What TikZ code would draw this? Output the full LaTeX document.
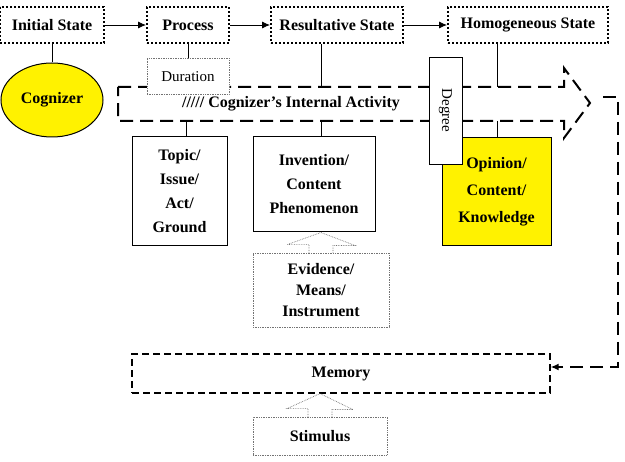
\documentclass[tikz,border=0pt]{standalone}
\usepackage{fontspec}
\setmainfont{Liberation Serif}
\usetikzlibrary{positioning, arrows.meta, shapes.geometric}
\tikzset{-, % plain lines unless an arrow is asked for
>={Latex[length=8pt,width=7pt]}, % filled arrow heads
node distance=41pt, % gap between the states on top
state/.style={draw, line width=2pt, dash pattern=on 2pt off 2pt, minimum height=36pt, inner sep=0pt, font=\fontsize{16}{19}\selectfont\bfseries},
box/.style={draw, line width=1pt, inner sep=0pt, align=center, font=\fontsize{16}{24}\selectfont\bfseries},
aid/.style={draw=black!55, densely dotted, line width=0.7pt, inner sep=0pt, align=center},
band/.style={line width=2pt, dash pattern=on 13pt off 7pt},
hollow/.style={black!55, densely dotted, line width=0.7pt},
}

\begin{document}
\begin{tikzpicture}[x=1pt, y=-1pt]
  \useasboundingbox (0,0) rectangle (625,462);

  \node[state, minimum width=104pt] (init) at (52,25) {Initial State};
  \node[state, minimum width=82pt, right=of init] (proc) {Process};
  \node[state, minimum width=132pt, right=40pt of proc] (res) {Resultative State};
  \node[state, minimum width=160pt, right=43pt of res] (homo) {Homogeneous State};

  \node[ellipse, draw, fill=yellow, line width=1pt, minimum width=102pt, minimum height=74pt, inner sep=0pt, font=\fontsize{16}{19}\selectfont\bfseries] (cog) at (52,100) {Cognizer};

  % the internal activity as a big open arrow
  \draw[band] (118,87) -- (564,87) -- (564,68) -- (590,103) -- (564,138) -- (564,121) -- (118,121) -- cycle;
  \node[font=\fontsize{16}{19}\selectfont\bfseries] (act) at (291,104) {///// Cognizer’s Internal Activity};

  \node[aid, fill=white, minimum width=82pt, minimum height=36pt, below=14pt of proc, font=\fontsize{15}{18}\selectfont] (dur) {Duration};

  \node[box, minimum width=95pt, minimum height=109pt] (topic) at (179.5,191.5) {Topic/\\Issue/\\Act/\\Ground};
  \node[box, minimum width=122pt, minimum height=95pt] (inv) at (314,184.5) {Invention/\\Content\\Phenomenon};
  \node[aid, minimum width=136pt, minimum height=74pt, font=\fontsize{16}{21}\selectfont\bfseries] (evid) at (321,290) {Evidence/\\Means/\\Instrument};
  \node[box, fill=yellow, minimum width=109pt, minimum height=108pt, font=\fontsize{16}{27}\selectfont\bfseries] (opin) at (496.5,192) {Opinion/\\Content/\\Knowledge};
  \node[draw, fill=white, line width=0.6pt, rotate=-90, minimum width=107pt, minimum height=33pt, inner sep=0pt, font=\fontsize{15}{18}\selectfont] (deg) at (445.5,110.5) {Degree};

  \node[draw, line width=1.2pt, dash pattern=on 7pt off 4pt, minimum width=418pt, minimum height=39pt, inner sep=0pt, font=\fontsize{16}{19}\selectfont\bfseries] (mem) at (341,373.5) {Memory};
  \node[aid, minimum width=134pt, minimum height=38pt, font=\fontsize{16}{19}\selectfont\bfseries] (stim) at (320,436) {Stimulus};

  \draw[->, line width=0.8pt] (init) -- (proc);
  \draw[->, line width=0.8pt] (proc) -- (res);
  \draw[->, line width=0.8pt] (res) -- (homo);
  \draw[line width=0.8pt] (init) -- (cog);
  \draw[line width=0.8pt] (proc) -- (dur);

  \coordinate (rx) at (321,87);
  \coordinate (hx) at (497,87);
  \coordinate (tx) at (186,121);
  \coordinate (ix) at (321,121);
  \coordinate (ox) at (497,121);
  \draw[line width=0.8pt] (res.south -| rx) -- (rx);
  \draw[line width=0.8pt] (homo.south -| hx) -- (hx);
  \draw[line width=0.8pt] (tx) -- (topic.north -| tx);
  \draw[line width=0.8pt] (ix) -- (inv.north -| ix);
  \draw[line width=0.8pt] (ox) -- (opin.north -| ox);

  \draw[hollow] ([xshift=-12pt]evid.north) -- ++(0,-8) -- ++(-22,0) -- (inv.south -| evid.north) -- ++(34,13) -- ++(-22,0) -- ++(0,8);
  \draw[hollow] ([xshift=-12pt]stim.north) -- ++(0,-8) -- ++(-21,0) -- (mem.south -| stim.north) -- ++(33,16) -- ++(-21,0) -- ++(0,8);

  \coordinate (back) at (603,97);
  \draw[band, ->] (back) -- (618,97) -- (618,367) -- ([yshift=6.5pt]mem.east);

\end{tikzpicture}
\end{document}
